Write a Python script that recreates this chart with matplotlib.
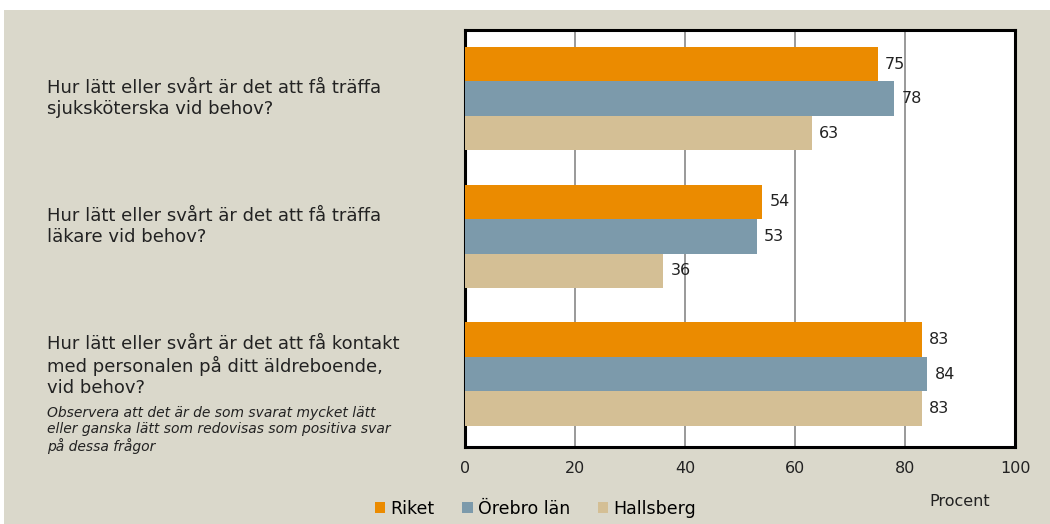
import matplotlib
matplotlib.use("Agg")
import matplotlib.pyplot as plt
import matplotlib.transforms as mtransforms
import numpy as np

questions = ["Hur lätt eller svårt är det att få träffa\nsjuksköterska vid behov?",
             "Hur lätt eller svårt är det att få träffa\nläkare vid behov?",
             "Hur lätt eller svårt är det att få kontakt\nmed personalen på ditt äldreboende,\nvid behov?"]
note = "Observera att det är de som svarat mycket lätt\neller ganska lätt som redovisas som positiva svar\npå dessa frågor"
series_names = ["Riket", "Örebro län", "Hallsberg"]
riket = [75, 54, 83]
orebro = [78, 53, 84]
hallsberg = [63, 36, 83]
xticks = [0, 20, 40, 60, 80, 100]

colors = ["#EB8B00", "#7C9AAB", "#D4BF95"]
bg = "#DAD8CB"

plt.rcParams['font.family'] = ['DejaVu Sans']

fig = plt.figure(figsize=(10.5, 5.24), dpi=100)
fig.patch.set_facecolor("white")
fig.patches.append(plt.Rectangle((0.004, 0), 0.996, 0.981, transform=fig.transFigure,
                                 facecolor=bg, edgecolor="none", zorder=-10))

ax = fig.add_axes([0.443, 0.147, 0.524, 0.796])
ax.set_facecolor("white")

h = 0.25
y = np.arange(len(questions))
for i, (name, vals) in enumerate(zip(series_names, [riket, orebro, hallsberg])):
    pos = y - h + i * h
    ax.barh(pos, vals, height=h, color=colors[i], label=name, zorder=3)
    for p, v in zip(pos, vals):
        ax.text(v + 1.3, p, str(v), va="center", ha="left", fontsize=11.5, color="#222222", zorder=4)

ax.set_xlim(0, 100)
ax.set_ylim(2.53, -0.5)
ax.set_xticks(xticks)
ax.set_yticks([])
ax.tick_params(axis="x", length=0, pad=10, labelsize=11.5, colors="#222222")
ax.grid(axis="x", color="#888888", linewidth=1.2, zorder=1)
for s in ax.spines.values():
    s.set_linewidth(2.2)
    s.set_color("black")

trans = mtransforms.blended_transform_factory(fig.transFigure, ax.transData)
offs = [0.0, -0.07, -0.06]
for i, q in enumerate(questions):
    ax.text(0.045, y[i] + offs[i], q, transform=trans, ha="left", va="center",
            fontsize=13, color="#222222", linespacing=1.2)
ax.text(0.045, 2.23, note, transform=trans, ha="left", va="top", fontsize=10,
        style="italic", color="#222222", linespacing=1.2)

fig.legend(loc="lower left", bbox_to_anchor=(0.342, -0.018), ncol=3, frameon=False,
           fontsize=12.5, handlelength=0.6, handleheight=0.6, handletextpad=0.3,
           columnspacing=1.6)
fig.text(0.885, 0.035, "Procent", fontsize=11.5, color="#222222")

fig.savefig("out.png", dpi=100, facecolor=fig.get_facecolor())
